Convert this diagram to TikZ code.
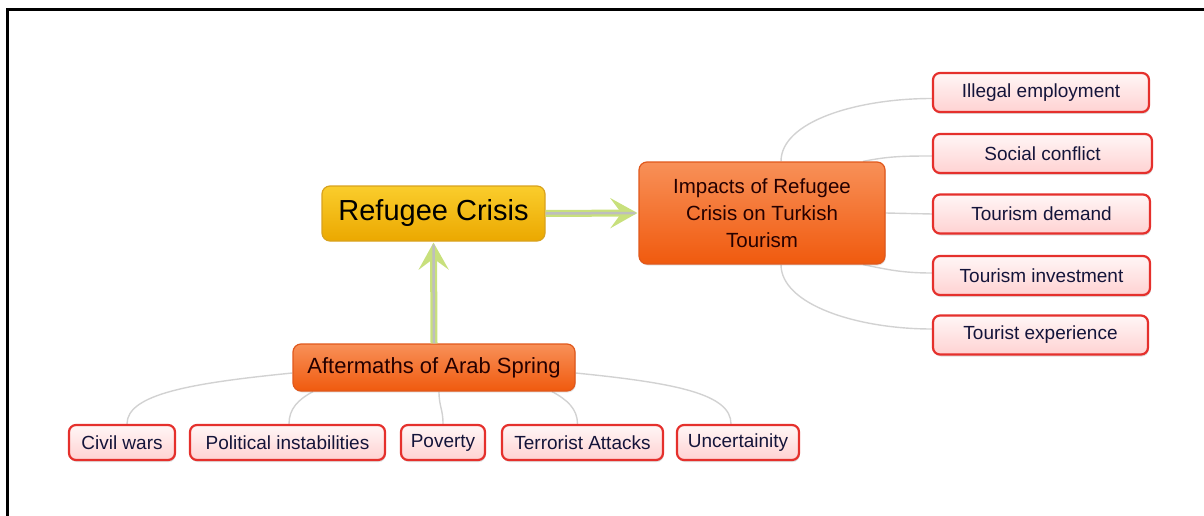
\documentclass[tikz,border=0pt]{standalone}
\usepackage{fontspec}
\setmainfont{Liberation Sans}
\usetikzlibrary{arrows.meta,shadows,backgrounds}
\definecolor{goldtop}{HTML}{FACD2C}
\definecolor{goldbot}{HTML}{EBA800}
\definecolor{goldedge}{HTML}{D8A21E}
\definecolor{orgtop}{HTML}{F89058}
\definecolor{orgbot}{HTML}{F05A0E}
\definecolor{orgedge}{HTML}{E0581C}
\definecolor{leaftop}{HTML}{FFF6F6}
\definecolor{leafbot}{HTML}{FFD2D2}
\definecolor{leafedge}{HTML}{E5302C}
\definecolor{leaftext}{HTML}{14143A}
\definecolor{arrowgreen}{HTML}{C8E07C}
\definecolor{arrowgray}{HTML}{BEBEBE}
\definecolor{branchgray}{HTML}{D2D2D2}
\tikzset{
  mainbox/.style={draw=goldedge, line width=1.2pt, rounded corners=8pt,
    top color=goldtop, bottom color=goldbot, minimum width=223pt, minimum height=55pt,
    inner sep=0pt, font=\fontsize{29}{33}\selectfont, text=black},
  topicbox/.style={draw=orgedge, line width=1.2pt, rounded corners=8pt,
    top color=orgtop, bottom color=orgbot, inner sep=0pt, text=black!85!red,
    drop shadow={shadow xshift=0.8pt, shadow yshift=-1.5pt, opacity=0.2}},
  leafbox/.style={draw=leafedge, line width=2.2pt, rounded corners=7pt,
    top color=leaftop, bottom color=leafbot, inner sep=0pt, text=leaftext,
    font=\fontsize{19}{22}\selectfont,
    drop shadow={shadow xshift=0.8pt, shadow yshift=-2pt, opacity=0.25}},
  rleaf/.style={leafbox, minimum width=216pt, minimum height=39pt},
  bleaf/.style={leafbox, minimum height=35pt},
  greenarrow/.style={draw=arrowgreen, line width=7pt,
    -{Stealth[length=27pt, width=30pt, inset=11pt]}},
  grayline/.style={draw=arrowgray, line width=2.5pt},
  branch/.style={draw=branchgray, line width=1.4pt},
  frameline/.style={draw=black, line width=3pt}
}
\begin{document}
\begin{tikzpicture}[x=1pt,y=-1pt]
\useasboundingbox (0,0) rectangle (1204,516);
\draw[frameline] (7.5,517) -- (7.5,9.5) -- (1205,9.5);

\node[mainbox] (rc) at (433.5,213.5) {Refugee Crisis};
\node[topicbox, minimum width=246pt, minimum height=102pt, align=center,
  font=\fontsize{20.5}{27}\selectfont] (imp) at (762,213)
  {Impacts of Refugee\\Crisis on Turkish\\Tourism};
\node[topicbox, minimum width=282pt, minimum height=47pt,
  font=\fontsize{22}{26}\selectfont] (aft) at (434,367.5) {Aftermaths of Arab Spring};

\node[rleaf] (ill) at (1041,92.5) {Illegal employment};
\node[rleaf, minimum width=219pt] (soc) at (1042.5,153.5) {Social conflict};
\node[rleaf, minimum width=217pt] (dem) at (1041.5,214) {Tourism demand};
\node[rleaf, minimum width=217pt] (inv) at (1041.5,275.5) {Tourism investment};
\node[rleaf, minimum width=215pt] (exp) at (1040.5,335) {Tourist experience};

\node[bleaf, minimum width=106pt] (civ) at (122,442.5) {Civil wars};
\node[bleaf, minimum width=195pt] (pol) at (287.5,442.5) {Political instabilities};
\node[bleaf, minimum width=84pt] (pov) at (443,442.5) {Poverty};
\node[bleaf, minimum width=161pt] (ter) at (582.5,442.5) {Terrorist Attacks};
\node[bleaf, minimum width=122pt] (unc) at (738,442.5) {Uncertainity};

\begin{pgfonlayer}{background}
\draw[branch] ([xshift=19pt]imp.north) .. controls +(0,-40) and +(-75,0) .. ([yshift=-6pt]ill.west);
\draw[branch] ([xshift=101pt]imp.north) .. controls +(25,-5) and +(-30,0) .. ([yshift=-2.5pt]soc.west);
\draw[branch] (imp.east) -- (dem.west);
\draw[branch] ([xshift=101pt]imp.south) .. controls +(25,5) and +(-30,0) .. ([yshift=2.5pt]inv.west);
\draw[branch] ([xshift=19pt]imp.south) .. controls +(0,40) and +(-75,0) .. ([yshift=6pt]exp.west);

\draw[branch] ([yshift=-5.5pt]aft.west) .. controls +(-100,10) and +(0,-30) .. ([xshift=5pt]civ.north);
\draw[branch] ([xshift=-121pt]aft.south) .. controls +(-15,8) and +(0,-15) .. ([xshift=1.5pt]pol.north);
\draw[branch] ([xshift=5pt]aft.south) .. controls +(0,15) and +(0,-15) .. (pov.north);
\draw[branch] ([xshift=118pt]aft.south) .. controls +(15,8) and +(0,-15) .. ([xshift=-5pt]ter.north);
\draw[branch] ([yshift=-5.5pt]aft.east) .. controls +(100,10) and +(0,-30) .. ([xshift=-7pt]unc.north);
\end{pgfonlayer}

\draw[greenarrow] (rc.east) -- ([xshift=-1pt]imp.west);
\draw[grayline] (rc.east) -- ([xshift=-3pt]imp.west);
\draw[greenarrow] (aft.north) -- ([yshift=-1pt]rc.south);
\draw[grayline] (aft.north) -- ([yshift=-3pt]rc.south);
\end{tikzpicture}
\end{document}
